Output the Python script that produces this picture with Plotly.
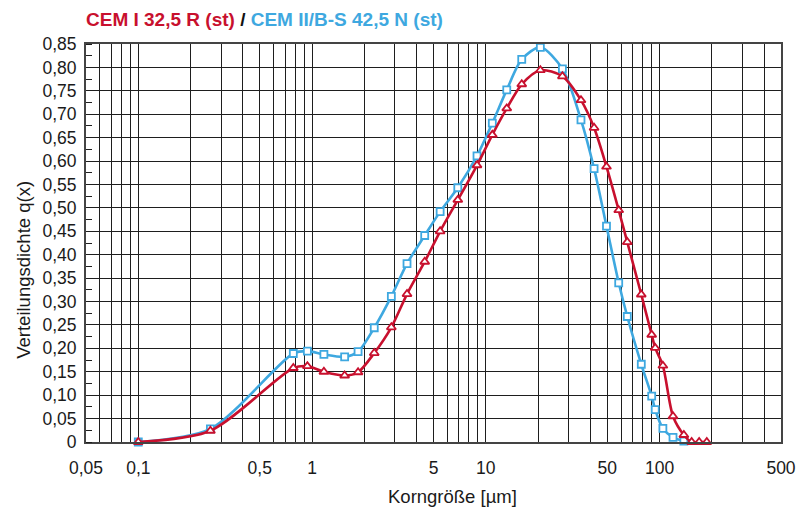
import plotly.graph_objects as go

# Grain size (µm) sample points
x_common = [0.1, 0.26, 0.78, 0.94, 1.17, 1.54, 1.84, 2.28, 2.86, 3.52, 4.45, 5.46, 6.9, 8.9,
            10.9, 13.2, 16.1, 20.6, 27.6, 35.3, 42, 49.5, 58.2, 65.2, 78.5, 90.1, 94.4,
            104.5, 119.5, 138]
x_red = x_common + [153, 169, 187]

# CEM II/B-S 42,5 N (st) – blue squares
q_blue = [0.0, 0.028, 0.189, 0.194, 0.187, 0.182, 0.193, 0.244, 0.311, 0.381, 0.441, 0.492,
          0.543, 0.611, 0.681, 0.752, 0.817, 0.843, 0.797, 0.688, 0.584, 0.461, 0.340, 0.268,
          0.166, 0.098, 0.069, 0.029, 0.010, 0.002]

# CEM I 32,5 R (st) – red triangles
q_red = [0.0, 0.024, 0.158, 0.162, 0.150, 0.142, 0.149, 0.190, 0.245, 0.316, 0.385, 0.450,
         0.517, 0.591, 0.656, 0.7125, 0.764, 0.794, 0.781, 0.730, 0.671, 0.588, 0.495, 0.427,
         0.315, 0.229, 0.201, 0.163, 0.055, 0.015, 0.0, 0.0, 0.0]

x_tickvals = [0.05, 0.1, 0.5, 1, 5, 10, 50, 100, 500]
x_ticktext = ["0,05", "0,1", "0,5", "1", "5", "10", "50", "100", "500"]
x_minor = [0.06, 0.07, 0.08, 0.09, 0.2, 0.3, 0.4, 0.6, 0.7, 0.8, 0.9,
           2, 3, 4, 6, 7, 8, 9, 20, 30, 40, 60, 70, 80, 90, 200, 300, 400]

y_tickvals = [i * 0.05 for i in range(18)]
y_ticktext = ["0"] + [("%.2f" % v).replace(".", ",") for v in y_tickvals[1:]]

RED = "#c8102e"
BLUE = "#3ea8e0"
FONT = "Liberation Sans, Arial, sans-serif"

fig = go.Figure()
fig.add_trace(go.Scatter(
    x=x_common, y=q_blue, mode="lines+markers",
    line=dict(color=BLUE, width=2.6, shape="spline", smoothing=0.8),
    marker=dict(symbol="square", size=7, color="white", line=dict(color=BLUE, width=1.8)),
    name="CEM II/B-S 42,5 N (st)", cliponaxis=False))
fig.add_trace(go.Scatter(
    x=x_red, y=q_red, mode="lines+markers",
    line=dict(color=RED, width=2.6, shape="spline", smoothing=0.8),
    marker=dict(symbol="triangle-up", size=8, color="white", line=dict(color=RED, width=1.8)),
    name="CEM I 32,5 R (st)", cliponaxis=False))

GRID = "#1e1e1e"
fig.update_xaxes(
    type="log", range=[-1.30103, 2.69897],
    tickvals=x_tickvals, ticktext=x_ticktext, ticks="",
    showgrid=True, gridcolor=GRID, gridwidth=1,
    minor=dict(tickvals=x_minor, showgrid=True, gridcolor=GRID, gridwidth=1, ticks=""),
    showline=True, linecolor="#444", linewidth=2, mirror=True,
    tickfont=dict(family=FONT, size=17.5, color="#1a1a1a"),
    zeroline=False, ticklabelstandoff=9)
fig.update_yaxes(
    range=[0, 0.85], tickvals=y_tickvals, ticktext=y_ticktext, ticks="",
    showgrid=True, gridcolor=GRID, gridwidth=1,
    minor=dict(dtick=0.025, tick0=0, ticks="inside", ticklen=6, tickcolor=GRID,
               tickwidth=1, showgrid=False),
    showline=True, linecolor="#444", linewidth=2, mirror=True,
    tickfont=dict(family=FONT, size=17.5, color="#1a1a1a"),
    zeroline=False, ticklabelstandoff=4)

fig.update_layout(
    width=808, height=508,
    margin=dict(l=86, r=20, t=44, b=66),
    paper_bgcolor="white", plot_bgcolor="white",
    showlegend=False,
    font=dict(family=FONT, size=17, color="#1a1a1a"),
    annotations=[
        dict(text=("<b><span style='color:%s'>CEM I 32,5 R (st)</span>"
                   "<span style='color:#111'> / </span>"
                   "<span style='color:%s'>CEM II/B-S 42,5 N (st)</span></b>") % (RED, BLUE),
             xref="paper", yref="paper", x=-0.003, y=1.062, xanchor="left", yanchor="middle",
             showarrow=False, font=dict(size=19)),
        dict(text="Korngröße [µm]", xref="paper", yref="paper", x=0.527, y=-0.136,
             xanchor="center", yanchor="middle", showarrow=False, font=dict(size=18.5)),
        dict(text="Verteilungsdichte q(x)", xref="paper", yref="paper", x=-0.089, y=0.433,
             xanchor="center", yanchor="middle", textangle=-90, showarrow=False,
             font=dict(size=18.5)),
    ],
)

fig.write_html("out.html")
